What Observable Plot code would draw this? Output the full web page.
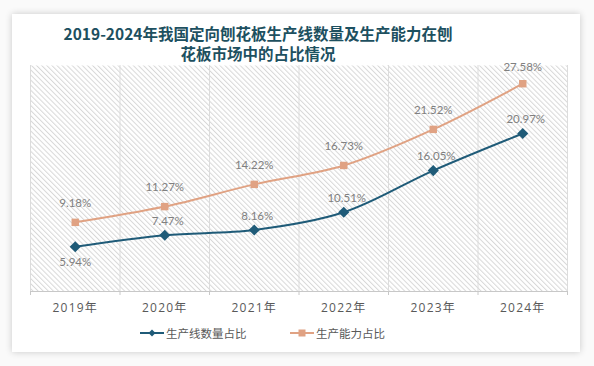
<!DOCTYPE html>
<html>
<head>
<meta charset="utf-8">
<script src="https://cdn.jsdelivr.net/npm/d3@7"></script>
<script src="https://cdn.jsdelivr.net/npm/@observablehq/plot@0.6"></script>
<style>
  html, body { margin: 0; padding: 0; background: #fafafa; }
  body { width: 594px; height: 366px; overflow: hidden; position: relative; font-family: "Noto Sans CJK SC", "Noto Sans", sans-serif; }
  .card { position: absolute; left: 12px; top: 14px; width: 568px; height: 338px; background: #fff; box-shadow: 0 0 7px rgba(0,0,0,0.2); }
  .title { position: absolute; left: 0; top: 9px; width: 492px; text-align: center; font-family: "Noto Sans CJK SC", sans-serif; font-weight: bold; font-size: 15.5px; line-height: 20px; color: #1d5060; }
  #chart { position: absolute; left: 0; top: 48px; }
  #chart svg { overflow: visible; }
  #chart svg [aria-label="x-axis tick label"] text { letter-spacing: 1.2px; }
  .legend { position: absolute; top: 311px; left: 0; width: 568px; font-size: 11.5px; color: #595959; }
  .legend .item { position: absolute; display: flex; align-items: center; height: 16px; }
  .legend svg { margin-right: 2px; }
</style>
</head>
<body>
<div class="card">
  <div class="title">2019-2024年我国定向刨花板生产线数量及生产能力在刨<br>花板市场中的占比情况</div>
  <div id="chart"></div>
  <div class="legend">
    <div class="item" style="left:128px"><svg width="24" height="10"><line x1="0" y1="5" x2="24" y2="5" stroke="#1f5b78" stroke-width="2"/><path d="M12 1.5 L15.5 5 L12 8.5 L8.5 5 Z" fill="#1f5b78"/></svg>生产线数量占比</div>
    <div class="item" style="left:278px"><svg width="24" height="10"><line x1="0" y1="5" x2="24" y2="5" stroke="#e0a283" stroke-width="2"/><rect x="8.5" y="1.5" width="7" height="7" fill="#e0a283"/></svg>生产能力占比</div>
  </div>
</div>
<script>
const years = ["2019年", "2020年", "2021年", "2022年", "2023年", "2024年"];
const lineShare = [5.94, 7.47, 8.16, 10.51, 16.05, 20.97];
const capacityShare = [9.18, 11.27, 14.22, 16.73, 21.52, 27.58];

const blue = "#1f5b78";
const orange = "#e0a283";

const blueData = years.map((y, i) => ({ i, x: i + 0.5, v: lineShare[i] }));
const orangeData = years.map((y, i) => ({ i, x: i + 0.5, v: capacityShare[i] }));
const bounds = d3.range(years.length + 1);
const centers = years.map((y, i) => i + 0.5);
const fmt = d => d.v.toFixed(2) + "%";
const labelFont = "Lato, 'Open Sans', sans-serif";
const labelColor = "#808080";

const chart = Plot.plot({
  width: 568,
  height: 262,
  marginLeft: 18,
  marginRight: 13,
  marginTop: 3,
  marginBottom: 33,
  x: { domain: [0, years.length], axis: null },
  y: { domain: [0, 30], axis: null },
  marks: [
    Plot.frame({ fill: "url(#hatch)", stroke: "none" }),
    Plot.ruleX(bounds, { stroke: "#dcdcdc", strokeWidth: 1 }),
    Plot.ruleY([0], { stroke: "#c8c8c8", strokeWidth: 1 }),
    Plot.axisX(bounds, { tickSize: 4, tickFormat: () => "", stroke: "#c8c8c8", label: null }),
    Plot.axisX(centers, { tickSize: 0, tickPadding: 12, label: null, tickFormat: d => years[Math.round(d - 0.5)], fontSize: 12, fill: "#595959", fontFamily: "'Open Sans', 'Noto Sans CJK SC', sans-serif" }),
    Plot.line(orangeData, { x: "x", y: "v", stroke: orange, strokeWidth: 2, curve: "catmull-rom" }),
    Plot.line(blueData, { x: "x", y: "v", stroke: blue, strokeWidth: 2, curve: "catmull-rom" }),
    Plot.dot(orangeData, { x: "x", y: "v", symbol: "square", fill: orange, r: 4.2 }),
    Plot.dot(blueData, { x: "x", y: "v", symbol: "diamond2", fill: blue, r: 5 }),
    Plot.text(orangeData.filter(d => d.i < 5), { x: "x", y: "v", text: fmt, dy: -19, fill: labelColor, fontSize: 11.5, fontFamily: labelFont }),
    Plot.text(orangeData.filter(d => d.i === 5), { x: "x", y: "v", text: fmt, dy: -16, fill: labelColor, fontSize: 11.5, fontFamily: labelFont }),
    Plot.text(blueData.filter(d => d.i > 0), { x: "x", y: "v", text: fmt, dx: 3, dy: -14, fill: labelColor, fontSize: 11.5, fontFamily: labelFont }),
    Plot.text(blueData.filter(d => d.i === 0), { x: "x", y: "v", text: fmt, dy: 16, fill: labelColor, fontSize: 11.5, fontFamily: labelFont })
  ]
});

const ns = "http://www.w3.org/2000/svg";
const defs = document.createElementNS(ns, "defs");
defs.innerHTML = '<pattern id="hatch" width="3.6" height="3.6" patternUnits="userSpaceOnUse" patternTransform="rotate(-45)"><rect width="3.6" height="3.6" fill="#ffffff"/><line x1="0.5" y1="0" x2="0.5" y2="3.6" stroke="#d8d8d8" stroke-width="1"/></pattern>';
chart.insertBefore(defs, chart.firstChild);
document.getElementById("chart").appendChild(chart);
</script>
</body>
</html>
